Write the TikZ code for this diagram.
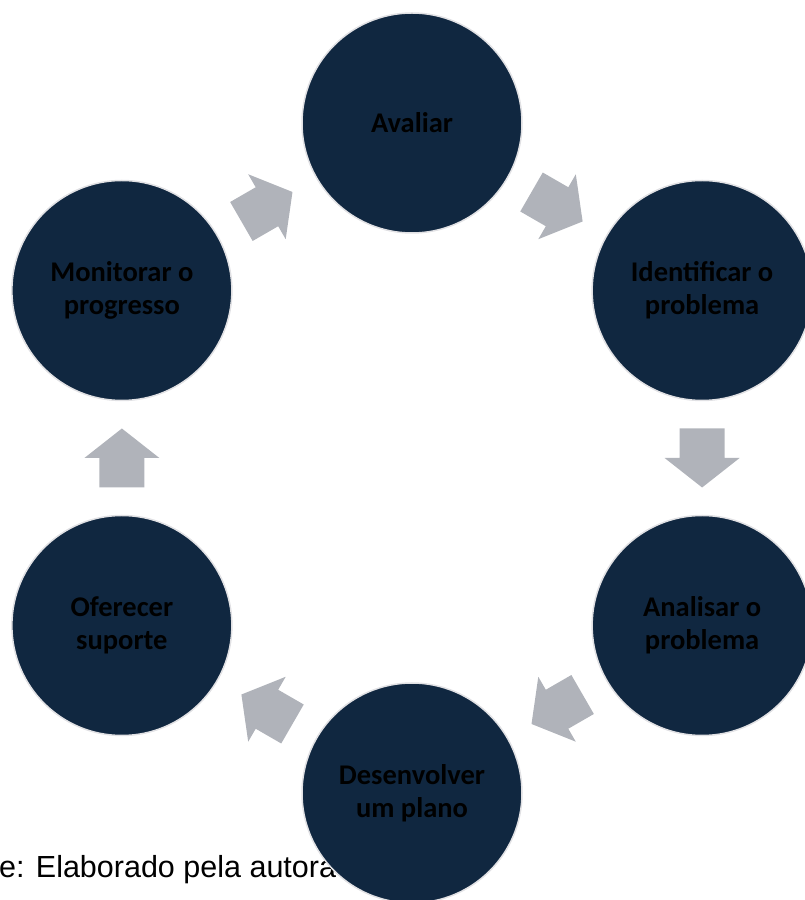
\documentclass[tikz,border=0pt]{standalone}
\usepackage{fontspec}
\setmainfont{Carlito}
\newfontfamily\capfont{Liberation Sans}
\usetikzlibrary{calc}
\definecolor{navy}{RGB}{16,39,64}
\definecolor{ringgray}{RGB}{225,225,228}
\definecolor{arrowgray}{RGB}{176,179,186}
\begin{document}
\begin{tikzpicture}[x=1pt,y=1pt,
  stepcircle/.style={circle, minimum size=220pt, inner sep=0pt, fill=navy,
    draw=ringgray, line width=1.5pt, align=center, text=black,
    font=\fontsize{28.5}{33}\selectfont\bfseries},
  blockarrow/.pic={\fill[arrowgray] (-29.5,22.5) -- (0,22.5) -- (0,37.5) -- (29.5,0)
    -- (0,-37.5) -- (0,-22.5) -- (-29.5,-22.5) -- cycle;},
  flowarrow/.style={pos=0.5, sloped, allow upside down}]
\useasboundingbox (0,0) rectangle (805,900);
\node[anchor=base west, inner sep=0pt, text=black,
  font=\capfont\fontsize{30.5}{36}\selectfont] (fonte) at (-1,23) {e: Elaborado pela autora};
\coordinate (c) at (412,442);
\node[stepcircle] (av)  at ($(c)+(90:335)$)   {Avaliar};
\node[stepcircle] (id)  at ($(c)+(30:335)$)   {Identificar o\\problema};
\node[stepcircle] (an)  at ($(c)+(-30:335)$)  {Analisar o\\problema};
\node[stepcircle] (de)  at ($(c)+(-90:335)$)  {Desenvolver\\um plano};
\node[stepcircle] (of)  at ($(c)+(-150:335)$) {Oferecer\\suporte};
\node[stepcircle] (mo)  at ($(c)+(150:335)$)  {Monitorar o\\progresso};
\path (av.center) -- (id.center) pic[flowarrow] {blockarrow};
\path (id.center) -- (an.center) pic[flowarrow] {blockarrow};
\path (an.center) -- (de.center) pic[flowarrow] {blockarrow};
\path (de.center) -- (of.center) pic[flowarrow] {blockarrow};
\path (of.center) -- (mo.center) pic[flowarrow] {blockarrow};
\path (mo.center) -- (av.center) pic[flowarrow] {blockarrow};
\end{tikzpicture}
\end{document}
